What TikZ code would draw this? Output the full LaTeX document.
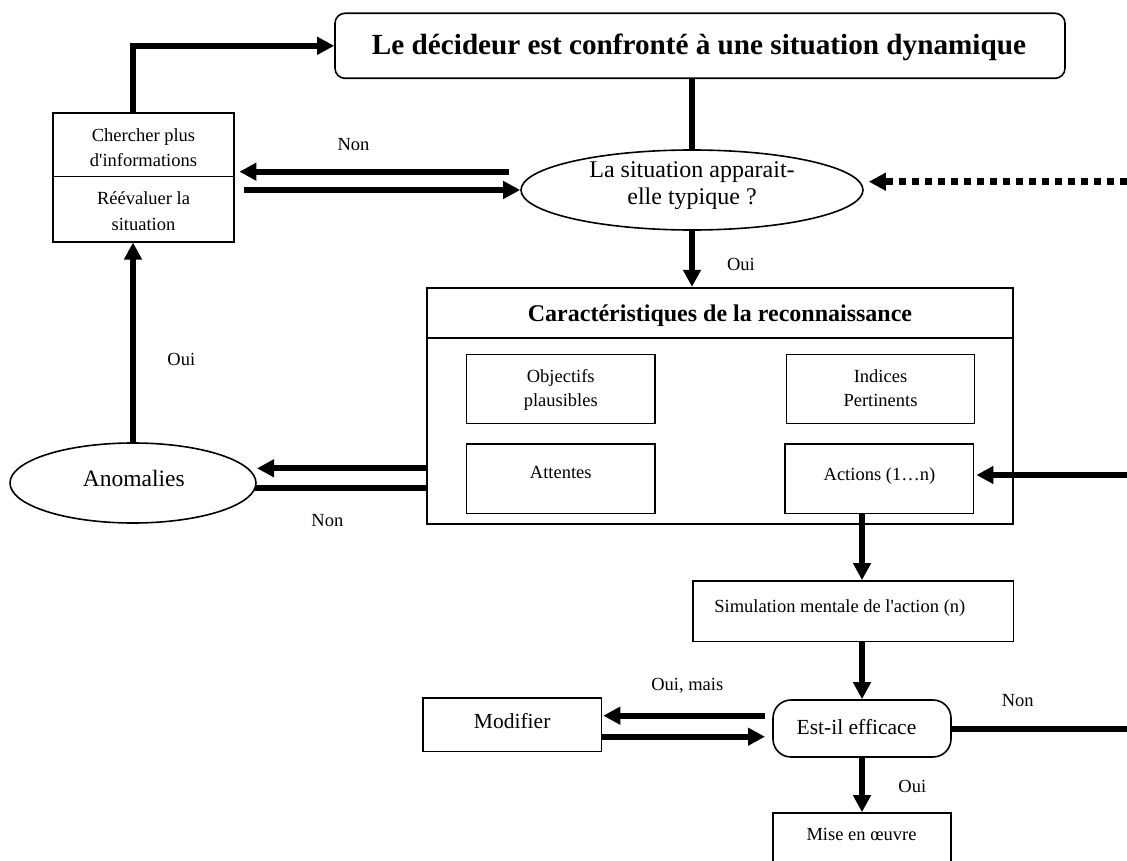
\documentclass[tikz,border=0pt]{standalone}
\usepackage{fontspec}
\setmainfont{Liberation Serif}
\usetikzlibrary{arrows.meta,shapes.geometric,calc}
\begin{document}
\begin{tikzpicture}[x=1pt,y=-1pt,
  box/.style={draw, line width=1.6pt, rectangle, inner sep=0pt},
  oval/.style={draw, line width=1.6pt, ellipse, inner sep=0pt},
  conn/.style={line width=6pt, -{Triangle[length=17pt,width=17pt]}},
  bar/.style={line width=6pt},
  dotconn/.style={line width=6.5pt, dash pattern=on 7pt off 6pt, -{Triangle[length=17pt,width=17pt]}},
  txt/.style={anchor=base, inner sep=0pt},
  s18/.style={font=\fontsize{18.5}{22}\selectfont},
  s21/.style={font=\fontsize{21.5}{26}\selectfont},
  s23/.style={font=\fontsize{23.5}{28}\selectfont},
  s24/.style={font=\fontsize{24}{28}\selectfont},
]
\useasboundingbox (0,0) rectangle (1127,861);
\clip (0,0) rectangle (1127,861);

% top banner
\node[box, rounded corners=10pt, minimum width=730pt, minimum height=65pt] (top) at (700,45.8) {};
\node[txt, font=\fontsize{29.2}{34}\selectfont\bfseries] (toptxt) at (699,54.3) {Le décideur est confronté à une situation dynamique};

% left double box
\node[box, minimum width=181pt, minimum height=63.4pt] (chercher) at (143.5,145) {};
\node[box, minimum width=181pt, minimum height=65pt] (reeval) at (143.5,209.2) {};
\node[txt,s18] (t1) at (143.5,141.7) {Chercher plus};
\node[txt,s18] (t2) at (143.5,166.7) {d\textquotesingle informations};
\node[txt,s18] (t3) at (143.5,205) {Réévaluer la};
\node[txt,s18] (t4) at (143.5,230) {situation};

% typicality question (second line cut off by its text frame)
\node[oval, minimum width=342pt, minimum height=80pt] (sit) at (692,190) {};
\node[txt,s24] (s1) at (692,177.3) {La situation apparait-};
\begin{scope}
  \clip (560,185) rectangle (830,208.3);
  \node[txt,s24] (s2) at (692,205) {elle typique ?};
\end{scope}
\node[txt,s18] (non1) at (353.5,150.7) {Non};

\coordinate (nonA) at (509,171.7);
\draw[conn] (nonA) -- ($(chercher.east |- nonA)+(4.6,0)$);
\draw[conn] ($(reeval.east |- sit.west)+(9,0)$) -- (sit.west);
\coordinate (dotin) at (1127,181.7);
\draw[dotconn] (dotin) -- ($(sit.east |- dotin)+(5,0)$);
\draw[bar] (top.south -| sit.north) -- (sit.north);

% recognition features
\node[box, minimum width=586pt, minimum height=50pt] (head) at (720,312.7) {};
\node[box, minimum width=586pt, minimum height=186.3pt] (body) at (720,430.85) {};
\node[txt, font=\fontsize{24}{28}\selectfont\bfseries] (headtxt) at (720,321) {Caractéristiques de la reconnaissance};

\draw[conn] (sit.south) -- (sit.south |- head.north);
\node[txt,s18] (oui1) at (741,270) {Oui};

\node[box, minimum width=188.5pt, minimum height=69pt] (obj) at (560.75,388.8) {};
\node[box, minimum width=188pt, minimum height=69pt] (ind) at (880.5,388.8) {};
\node[box, minimum width=188.5pt, minimum height=69.6pt] (att) at (560.75,478.5) {};
\node[box, minimum width=188.4pt, minimum height=69.6pt] (act) at (879.4,478.5) {};
\node[txt,s18] (o1) at (560.75,382.7) {Objectifs};
\node[txt,s18] (o2) at (560.75,406.7) {plausibles};
\node[txt,s18] (i1) at (880.5,382.7) {Indices};
\node[txt,s18] (i2) at (880.5,406.7) {Pertinents};
\node[txt,s18] (a1) at (560.75,478.3) {Attentes};
\node[txt,s18] (a2) at (879.4,480) {Actions (1…n)};

\coordinate (actin) at (1127,475);
\draw[conn] (actin) -- ($(act.east |- actin)+(2,0)$);

% anomalies
\node[oval, minimum width=246pt, minimum height=80pt] (anom) at (133,483) {};
\node[txt,s23] (anomtxt) at (133.9,486) {Anomalies};
\draw[conn] (anom.north) -- (anom.north |- reeval.south);
\draw[conn] (anom.north |- chercher.north) |- (top.west);
\node[txt,s18] (oui2) at (181.3,365) {Oui};
\coordinate (anU) at (257,468.3);
\draw[conn] (anU -| body.west) -- (anU);
\coordinate (anL) at (255,488.3);
\draw[bar] (anL) -- (anL -| body.west);
\node[txt,s18] (non2) at (327.4,526.7) {Non};

% mental simulation and evaluation
\node[box, minimum width=320.6pt, minimum height=60.7pt] (sim) at (853.3,611.3) {};
\node[txt,s18] (simtxt) at (839.8,612.7) {Simulation mentale de l\textquotesingle action (n)};
\node[box, rounded corners=18pt, minimum width=178pt, minimum height=57pt] (est) at (862,728.5) {};
\node[txt,s21] (esttxt) at (856.5,734.3) {Est-il efficace};
\node[box, minimum width=178.5pt, minimum height=53.7pt] (mod) at (512.2,724.8) {};
\node[txt,s21] (modtxt) at (512.2,728.7) {Modifier};
\node[box, minimum width=178pt, minimum height=77pt] (mise) at (862,851.5) {};
\node[txt,s18] (misetxt) at (861.5,840) {Mise en œuvre};

\draw[conn] (est.north |- act.south) -- (est.north |- sim.north);
\draw[conn] (est.north |- sim.south) -- (est.north);
\draw[conn] (est.south) -- (mise.north);
\coordinate (eL) at (765,715.7);
\coordinate (eR) at (765,736.7);
\draw[conn] (eL) -- ($(mod.east |- eL)+(1,0)$);
\draw[conn] (mod.east |- eR) -- (eR);
\node[txt,s18] (ouimais) at (687.3,690) {Oui, mais};
\coordinate (estout) at (1127,728.5);
\draw[bar] (est.east) -- (estout);
\node[txt,s18] (non3) at (1017.7,706) {Non};
\node[txt,s18] (oui3) at (912.3,792) {Oui};
\end{tikzpicture}
\end{document}
